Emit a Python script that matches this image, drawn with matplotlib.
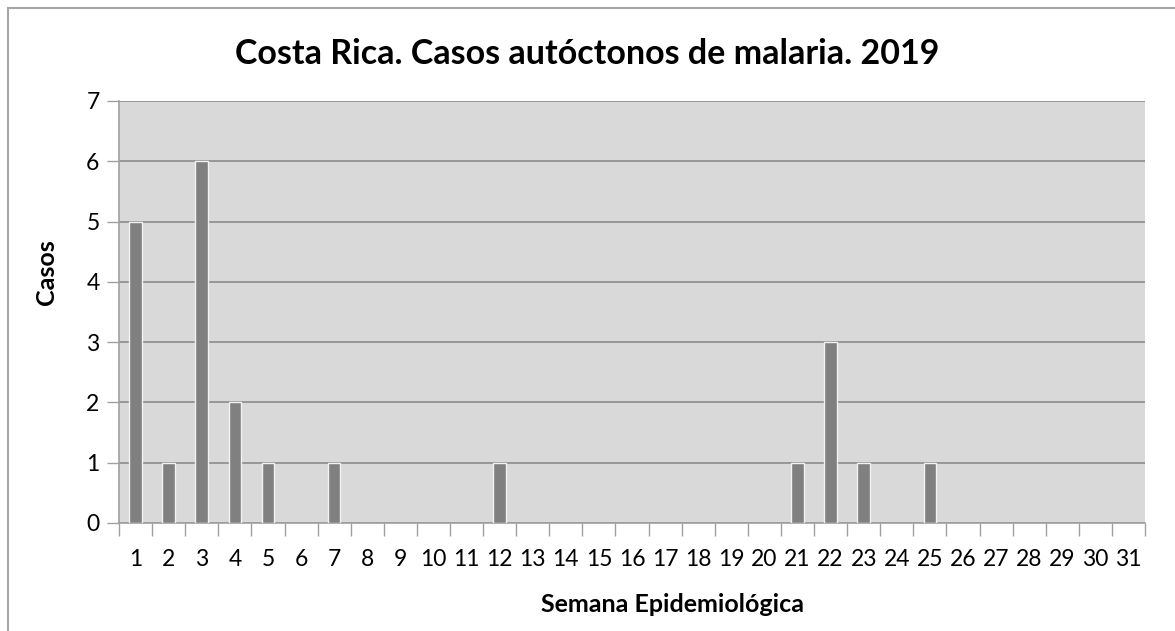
import matplotlib
matplotlib.use("Agg")
import matplotlib.pyplot as plt
from matplotlib.patches import Rectangle

plt.rcParams["font.family"] = ["Lato", "DejaVu Sans"]

semanas = list(range(1, 32))
casos = [5, 1, 6, 2, 1, 0, 1, 0, 0, 0, 0, 1, 0, 0, 0, 0, 0, 0, 0, 0,
         1, 3, 1, 0, 1, 0, 0, 0, 0, 0, 0]

fig = plt.figure(figsize=(11.75, 6.31), dpi=100)
ax = fig.add_axes([0.1013, 0.1712, 0.8732, 0.6688])

# chart border (Excel style), right/bottom run off the picture
fig.patches.append(Rectangle((8 / 1175, -0.1), 1.2, 1 - 8 / 631 + 0.1,
                             transform=fig.transFigure, fill=False,
                             edgecolor="#a6a6a6", linewidth=1.5))

ax.set_facecolor("#d9d9d9")
# only weeks with cases, so empty weeks don't leave an edge line at 0
x_con = [s for s, c in zip(semanas, casos) if c > 0]
y_con = [c for c in casos if c > 0]
ax.bar(x_con, y_con, width=0.38, color="#808080", edgecolor="#f2f2f2",
       linewidth=1.0, zorder=3)

ax.set_xlim(0.5, 31.5)
ax.set_ylim(0, 7)
ax.set_yticks(range(0, 8))
ax.set_xticks(semanas)
ax.set_xticks([s + 0.5 for s in range(0, 32)], minor=True)
ax.tick_params(axis="x", which="major", length=0, pad=19, labelsize=16.5)
ax.tick_params(axis="x", which="minor", length=9, color="#a0a0a0", width=1)
ax.tick_params(axis="y", length=9, color="#a0a0a0", width=1, pad=5,
               labelsize=16.5)
ax.grid(axis="y", color="#8c8c8c", linewidth=1.2, zorder=1)
ax.set_axisbelow(True)

for s in ["top", "right"]:
    ax.spines[s].set_visible(False)
for s in ["left", "bottom"]:
    ax.spines[s].set_color("#a0a0a0")
    ax.spines[s].set_linewidth(1.2)

ax.set_xlabel("Semana Epidemiológica", fontsize=18, fontweight="bold",
              va="center")
ax.xaxis.set_label_coords(0.539, -0.194)
ax.set_ylabel("Casos", fontsize=18, fontweight="bold", va="center")
ax.yaxis.set_label_coords(-0.071, 0.595)
fig.text(0.5, 0.915, "Costa Rica. Casos autóctonos de malaria. 2019",
         ha="center", va="center", fontsize=24.5, fontweight="bold")

fig.savefig("out.png", dpi=100)
